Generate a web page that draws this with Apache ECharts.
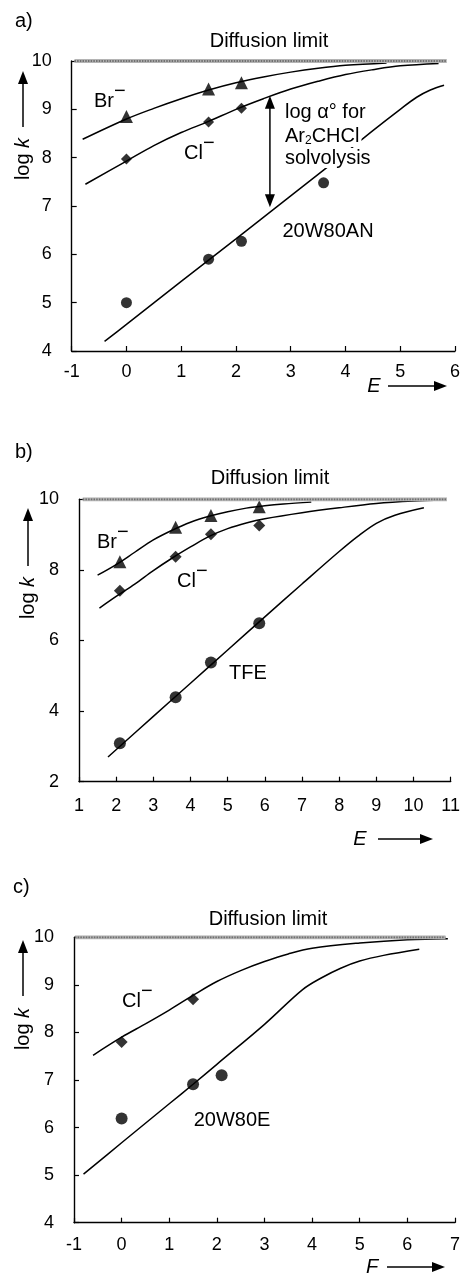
<!DOCTYPE html>
<html><head><meta charset="utf-8">
<script src="https://cdn.jsdelivr.net/npm/echarts@6/dist/echarts.min.js"></script>
<style>html,body{margin:0;padding:0;background:#fff}#c{width:463px;height:1274px}</style>
</head><body><div id="c"></div>
<script>
// ---------- Panel a (E scale, 20W80AN) ----------
const aXRange = [-1, 6];
const aYRange = [4, 10];
const aBrE = [0, 1.5, 2.1];
const aBrLogK = [8.85, 9.42, 9.55];
const aClE = [0, 1.5, 2.1];
const aClLogK = [7.97, 8.74, 9.02];
const aSolvE = [0, 1.5, 2.1, 3.6];
const aSolvLogK = [5.0, 5.9, 6.27, 7.48];
const aBrCurveE = [-0.8, 0, 0.5, 1, 1.5, 2, 2.5, 3, 3.5, 4, 4.75];
const aBrCurveLogK = [8.38, 8.8, 9.02, 9.22, 9.4, 9.55, 9.67, 9.77, 9.85, 9.91, 9.96];
const aClCurveE = [-0.75, 0, 0.5, 1, 1.5, 2, 2.5, 3, 3.5, 4, 4.5, 5, 5.7];
const aClCurveLogK = [7.45, 7.93, 8.25, 8.52, 8.75, 9.0, 9.22, 9.42, 9.58, 9.72, 9.82, 9.9, 9.95];
const aSolvCurveE = [-0.4, 0, 1, 2, 3, 4, 4.5, 5, 5.3, 5.55, 5.8];
const aSolvCurveLogK = [4.2, 4.55, 5.44, 6.32, 7.21, 8.1, 8.56, 9.0, 9.25, 9.4, 9.5];
const aDiffE = [-0.95, 5.85];
const aArrowE = [2.62, 2.62];
const aArrowLogK = [9.18, 7.08];

// ---------- Panel b (E scale, TFE) ----------
const bXRange = [1, 11];
const bYRange = [2, 10];
const bE = [2.1, 3.6, 4.55, 5.85];
const bBrLogK = [8.23, 9.21, 9.54, 9.79];
const bClLogK = [7.41, 8.37, 9.01, 9.26];
const bTfeLogK = [3.09, 4.39, 5.38, 6.49];
const bBrCurveE = [1.5, 2, 2.5, 3, 3.5, 4, 4.5, 5, 5.5, 6, 6.5, 7.25];
const bBrCurveLogK = [7.85, 8.15, 8.5, 8.85, 9.12, 9.35, 9.52, 9.65, 9.75, 9.82, 9.87, 9.92];
const bClCurveE = [1.55, 2, 2.5, 3, 3.5, 4, 4.5, 5, 5.5, 6, 7, 8, 9, 10, 10.8];
const bClCurveLogK = [6.92, 7.25, 7.6, 7.98, 8.33, 8.65, 8.95, 9.17, 9.33, 9.45, 9.62, 9.76, 9.88, 9.95, 9.98];
const bTfeCurveE = [1.78, 3, 4, 5, 6, 7, 8, 8.5, 9, 9.5, 10.28];
const bTfeCurveLogK = [2.7, 3.85, 4.79, 5.73, 6.67, 7.6, 8.52, 8.95, 9.32, 9.55, 9.76];
const bDiffE = [1.1, 10.9];

// ---------- Panel c (F scale, 20W80E) ----------
const cXRange = [-1, 7];
const cYRange = [4, 10];
const cClF = [0, 1.5];
const cClLogK = [7.8, 8.7];
const cSolvF = [0, 1.5, 2.1];
const cSolvLogK = [6.19, 6.91, 7.1];
const cClCurveF = [-0.6, 0, 0.5, 1, 1.5, 2, 2.5, 3, 3.5, 4, 5, 6, 6.85];
const cClCurveLogK = [7.52, 7.9, 8.18, 8.47, 8.78, 9.07, 9.3, 9.49, 9.65, 9.77, 9.88, 9.95, 9.97];
const cSolvCurveF = [-0.8, 0, 1, 1.5, 2, 3, 3.8, 4.2, 4.6, 5, 5.5, 6.25];
const cSolvCurveLogK = [5.02, 5.68, 6.5, 6.91, 7.33, 8.17, 8.9, 9.15, 9.35, 9.5, 9.62, 9.75];
const cDiffF = [-0.98, 6.8];

const FONT = "'Liberation Sans', Arial, sans-serif";
const TS = 20;
const zip = (xs, ys) => xs.map((x, i) => [x, ys[i]]);
const flat = (xs, v) => xs.map(x => [x, v]);

const grids = [
  {left: 71.7, top: 61, width: 385.6, height: 290},
  {left: 79, top: 499.3, width: 374.3, height: 282.4},
  {left: 74, top: 937.3, width: 383.7, height: 285.4}
];
function xAx(i, r, iv, margin) {
  return {type: 'value', gridIndex: i, min: r[0], max: r[1], interval: iv,
    axisLine: {show: true, onZero: false, lineStyle: {color: '#000', width: 1.4}},
    axisTick: {show: true, inside: true, length: 5, lineStyle: {color: '#000', width: 1.2}},
    axisLabel: {color: '#000', fontSize: 18, fontFamily: FONT, margin: margin},
    splitLine: {show: false}};
}
function yAx(i, r, iv) {
  return {type: 'value', gridIndex: i, min: r[0], max: r[1], interval: iv,
    axisLine: {show: true, onZero: false, lineStyle: {color: '#000', width: 1.4}},
    axisTick: {show: true, inside: true, length: 5, lineStyle: {color: '#000', width: 1.2}},
    axisLabel: {color: '#000', fontSize: 18, fontFamily: FONT, margin: 20},
    splitLine: {show: false}};
}
function curve(i, data) {
  return {type: 'line', xAxisIndex: i, yAxisIndex: i, data: data, smooth: 0.35,
    showSymbol: false, symbol: 'none', lineStyle: {color: '#000', width: 1.5}, z: 3, silent: true};
}
function pts(i, data, sym, size) {
  return {type: 'scatter', xAxisIndex: i, yAxisIndex: i, data: data, symbol: sym,
    symbolSize: size, itemStyle: {color: '#000'}, z: 5, silent: true};
}
function diff(i, xs) {
  return [
    {type: 'line', xAxisIndex: i, yAxisIndex: i, data: flat(xs, 10), symbol: 'none',
      lineStyle: {color: '#b4b4b4', width: 4}, z: 6, silent: true},
    {type: 'line', xAxisIndex: i, yAxisIndex: i, data: flat(xs, 10), symbol: 'none',
      lineStyle: {color: '#707070', width: 2, type: [1.5, 1.2]}, z: 7, silent: true}
  ];
}

const series = [
  ...diff(0, aDiffE),
  curve(0, zip(aBrCurveE, aBrCurveLogK)),
  curve(0, zip(aClCurveE, aClCurveLogK)),
  curve(0, zip(aSolvCurveE, aSolvCurveLogK)),
  pts(0, zip(aBrE, aBrLogK), 'triangle', 13),
  pts(0, zip(aClE, aClLogK), 'diamond', 11),
  pts(0, zip(aSolvE, aSolvLogK), 'circle', 11),
  {type: 'line', xAxisIndex: 0, yAxisIndex: 0, data: zip(aArrowE, aArrowLogK),
    symbol: 'none', lineStyle: {color: '#000', width: 1.5}, z: 4, silent: true},
  ...diff(1, bDiffE),
  curve(1, zip(bBrCurveE, bBrCurveLogK)),
  curve(1, zip(bClCurveE, bClCurveLogK)),
  curve(1, zip(bTfeCurveE, bTfeCurveLogK)),
  pts(1, zip(bE, bBrLogK), 'triangle', 13),
  pts(1, zip(bE, bClLogK), 'diamond', 12),
  pts(1, zip(bE, bTfeLogK), 'circle', 12),
  ...diff(2, cDiffF),
  curve(2, zip(cClCurveF, cClCurveLogK)),
  curve(2, zip(cSolvCurveF, cSolvCurveLogK)),
  pts(2, zip(cClF, cClLogK), 'diamond', 12),
  pts(2, zip(cSolvF, cSolvLogK), 'circle', 12)
];

// ---------- text & decorations ----------
const G = [];
function txt(s, x, y, opt) {
  opt = opt || {};
  G.push({type: 'text', x: x, y: y, z: 100,
    style: Object.assign({text: s, fill: '#000', fontSize: opt.size || TS, fontFamily: FONT,
      fontStyle: opt.italic ? 'italic' : 'normal',
      align: opt.align || 'left', verticalAlign: 'middle'}, opt.style || {})});
}
function ion(s, w, x, y) {
  txt(s, x, y);
  txt('\u2212', x + w, y - 10, {size: TS});
}
function arrowUp(x, y1, y2) {
  G.push({type: 'line', z: 100, shape: {x1: x, y1: y1, x2: x, y2: y2 + 10}, style: {stroke: '#000', lineWidth: 1.5}});
  G.push({type: 'polygon', z: 100, shape: {points: [[x, y2], [x - 5, y2 + 13], [x + 5, y2 + 13]]}, style: {fill: '#000'}});
}
function arrowRight(x1, x2, y) {
  G.push({type: 'line', z: 100, shape: {x1: x1, y1: y, x2: x2 - 10, y2: y}, style: {stroke: '#000', lineWidth: 1.5}});
  G.push({type: 'polygon', z: 100, shape: {points: [[x2, y], [x2 - 13, y - 5], [x2 - 13, y + 5]]}, style: {fill: '#000'}});
}
function logk(x, yc) {
  G.push({type: 'text', x: x, y: yc, z: 100, rotation: Math.PI / 2,
    style: {text: '{n|log }{i|k}', align: 'center', verticalAlign: 'middle', fill: '#000',
      rich: {n: {fontSize: TS, fontFamily: FONT}, i: {fontSize: TS, fontFamily: FONT, fontStyle: 'italic'}}}});
}

// a
txt('a)', 15, 21);
txt('Diffusion limit', 269, 41, {align: 'center'});
ion('Br', 20, 94, 101);
ion('Cl', 19, 184, 153);
txt('log \u03b1\u00b0 for', 285, 112, {style: {backgroundColor: '#fff', padding: [0, 2, 0, 0]}});
G.push({type: 'text', x: 285, y: 136, z: 100,
  style: {text: '{a|Ar}{s|2}{a|CHCl}', align: 'left', verticalAlign: 'middle', fill: '#000',
    backgroundColor: '#fff', padding: [0, 2, 0, 0],
    rich: {a: {fontSize: TS, fontFamily: FONT, lineHeight: 22},
           s: {fontSize: 12, fontFamily: FONT, lineHeight: 12, verticalAlign: 'bottom'}}}});
txt('solvolysis', 285, 158, {style: {backgroundColor: '#fff', padding: [0, 2, 0, 0]}});
txt('20W80AN', 328, 231, {align: 'center'});
logk(23, 159);
arrowUp(23, 127, 71);
txt('E', 374, 386, {italic: true, align: 'center'});
arrowRight(388, 447, 386);

// b
txt('b)', 15, 452);
txt('Diffusion limit', 270, 478, {align: 'center'});
ion('Br', 20, 97, 542);
ion('Cl', 19, 177, 581);
txt('TFE', 248, 673, {align: 'center'});
logk(28, 598);
arrowUp(28, 566, 508);
txt('E', 360, 839, {italic: true, align: 'center'});
arrowRight(378, 433, 839);

// c
txt('c)', 13, 887);
txt('Diffusion limit', 268, 919, {align: 'center'});
ion('Cl', 19, 122, 1001);
txt('20W80E', 232, 1120, {align: 'center'});
logk(23, 1029);
arrowUp(23, 996, 940);
txt('F', 372, 1267, {italic: true, align: 'center'});
arrowRight(387, 445, 1267);

const chart = echarts.init(document.getElementById('c'), null, {renderer: 'canvas'});
chart.setOption({
  animation: false,
  backgroundColor: '#fff',
  grid: grids,
  xAxis: [xAx(0, aXRange, 1, 12), xAx(1, bXRange, 1, 15), xAx(2, cXRange, 1, 13)],
  yAxis: [yAx(0, aYRange, 1), yAx(1, bYRange, 2), yAx(2, cYRange, 1)],
  series: series,
  graphic: G
});
// arrow heads of the double arrow, placed at data coordinates through the axes
const pTop = chart.convertToPixel({gridIndex: 0}, [aArrowE[0], aArrowLogK[0]]);
const pBot = chart.convertToPixel({gridIndex: 0}, [aArrowE[1], aArrowLogK[1]]);
chart.setOption({graphic: G.concat([
  {type: 'polygon', z: 100, shape: {points: [[pTop[0], pTop[1] - 5], [pTop[0] - 5, pTop[1] + 8], [pTop[0] + 5, pTop[1] + 8]]}, style: {fill: '#000'}},
  {type: 'polygon', z: 100, shape: {points: [[pBot[0], pBot[1] + 5], [pBot[0] - 5, pBot[1] - 8], [pBot[0] + 5, pBot[1] - 8]]}, style: {fill: '#000'}}
])});
</script></body></html>
